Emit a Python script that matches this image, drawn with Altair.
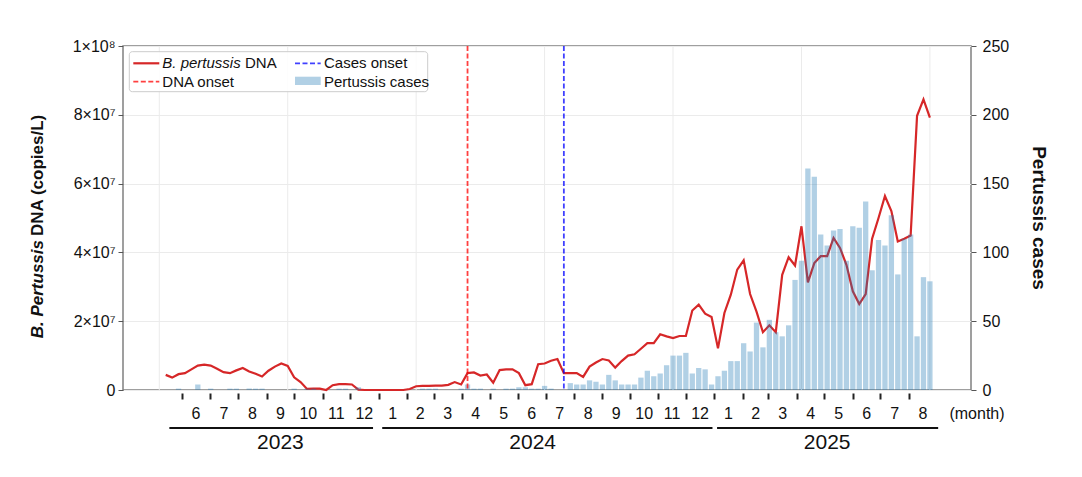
import altair as alt
import pandas as pd

# ---------------- data ----------------
START = "2023-05-07"          # date of week index 0
case_weeks = list(range(0, 121))
cases = [0, 0, 0, 1, 0, 0, 4, 0, 1, 0, 0, 1, 1, 0, 1, 1, 1, 0, 0, 0,
         0, 1, 0, 1, 1, 0, 0, 0, 1, 1, 0, 2, 0, 0, 0, 0, 0, 0, 0, 0,
         0, 1, 1, 1, 0, 0, 0, 1, 4, 1, 1, 0, 1, 0, 1, 1, 2, 2, 1, 1,
         3, 1, 0, 0, 5, 4, 4, 7, 6, 4, 11, 7, 4, 4, 4, 9, 14, 10, 12, 18,
         25, 25, 27, 12, 16, 15, 4, 10, 14, 21, 21, 34, 28, 49, 31, 51, 42, 39, 47, 80,
         94, 161, 155, 113, 105, 116, 117, 94, 119, 118, 137, 87, 109, 105, 127, 84, 110, 113, 39, 82,
         79]

dna_weeks = list(range(1, 121))
dna_million = [4.4, 3.6, 4.6, 4.9, 6.0, 7.1, 7.4, 7.1, 6.2, 5.2,
               4.9, 5.7, 6.4, 5.4, 4.7, 3.9, 5.6, 6.8, 7.7, 7.0,
               3.7, 2.3, 0.3, 0.4, 0.4, 0.0, 1.4, 1.7, 1.7, 1.6,
               0.1, 0.0, 0.0, 0.0, 0.0, 0.0, 0.0, 0.0, 0.3, 1.1,
               1.2, 1.2, 1.3, 1.3, 1.5, 2.3, 1.6, 4.9, 5.1, 4.2,
               4.5, 2.1, 5.8, 6.0, 6.0, 4.9, 1.4, 1.7, 7.5, 7.7,
               8.5, 9.0, 4.9, 4.9, 4.9, 3.8, 6.8, 8.0, 9.0, 8.6,
               6.5, 8.4, 10.0, 10.4, 12.0, 13.6, 13.6, 16.2, 15.6, 15.1,
               15.7, 15.7, 23.1, 24.8, 22.2, 21.2, 12.1, 22.4, 27.7, 35.0,
               37.7, 27.9, 22.8, 16.8, 18.8, 16.8, 33.5, 38.6, 36.2, 47.6,
               31.3, 36.9, 38.9, 38.9, 44.2, 41.3, 36.4, 28.7, 25.0, 27.9,
               44.0, 50.0, 56.4, 52.0, 43.2, 44.0, 44.9, 79.7, 84.5, 79.2]

dna_onset_week = 48
cases_onset_week = 63
grid_weeks = [0, 20, 40, 60, 80, 100, 120]
first_month = "2023-06-01"
last_month = "2025-08-01"
year_names = ["2023", "2024", "2025"]
year_line_start = ["2023-05-18", "2024-01-05", "2025-01-04"]
year_line_end = ["2023-12-26", "2024-12-30", "2025-09-02"]
year_label_at = ["2023-09-16", "2024-06-17", "2025-05-04"]
dna_ticks = [0, 2e7, 4e7, 6e7, 8e7, 1e8]
case_ticks = [0, 50, 100, 150, 200, 250]

# ---------------- derived tables ----------------
t0 = pd.Timestamp(START)


def wk(d):
    return (pd.Timestamp(d) - t0).days / 7.0


case_df = pd.DataFrame({"week": case_weeks, "cases": cases})
dna_df = pd.DataFrame({"week": dna_weeks, "dna": [v * 1e6 for v in dna_million]})
grid_df = pd.DataFrame({"gx": grid_weeks})

month_starts = pd.date_range(first_month, last_month, freq="MS")
month_ticks = [wk(d) for d in month_starts]
month_df = pd.DataFrame({
    "mid": [(wk(d) + wk(d + pd.offsets.MonthBegin(1))) / 2 for d in month_starts],
    "label": [str(d.month) for d in month_starts],
})
year_df = pd.DataFrame({
    "year": year_names,
    "ys": [wk(d) for d in year_line_start],
    "ye": [wk(d) for d in year_line_end],
    "yl": [wk(d) for d in year_label_at],
})

# ---------------- layout ----------------
W, H = 848, 344
FONT = "Liberation Sans"
RED = "#d62728"
BAR = "#1f77b4"
GRID = "#ebebeb"

xscale = alt.Scale(domain=[-5.65, 126.4], nice=False, zero=False, padding=0)
x_axis = alt.Axis(values=month_ticks, labels=False, ticks=True, tickSize=6,
                  tickWidth=2, tickColor="#222222", domain=False, grid=False,
                  offset=3, title=None)


def X(field):
    return alt.X(f"{field}:Q", scale=xscale, axis=x_axis, title=None)


one = alt.Data(values=[{"k": 0}])

vgrid = alt.Chart(grid_df).mark_rule(color=GRID, strokeWidth=1).encode(
    x=X("gx"), y=alt.value(0), y2=alt.value(H))

line = alt.Chart(dna_df).mark_line(color=RED, strokeWidth=2.2).encode(
    x=X("week"),
    y=alt.Y("dna:Q", scale=alt.Scale(domain=[0, 1e8], nice=False, padding=0),
            axis=alt.Axis(orient="left", values=dna_ticks,
                          labelExpr="datum.value == 0 ? '0' : (datum.value >= 1e8 ? '1×10⁸' : format(datum.value / 1e7, 'd') + '×10⁷')",
                          grid=True, gridColor=GRID, tickSize=5, tickColor="#555555",
                          labelPadding=3, domain=False, labelFont=FONT,
                          labelFontSize=16, labelColor="#111111", title=None)))

bars = alt.Chart(case_df).mark_bar(color=BAR, opacity=0.35, size=5.3).encode(
    x=X("week"),
    y=alt.Y("cases:Q", scale=alt.Scale(domain=[0, 250], nice=False, padding=0),
            axis=alt.Axis(orient="right", values=case_ticks, grid=False,
                          tickSize=5, tickColor="#555555", labelPadding=6,
                          domain=False, labelFont=FONT, labelFontSize=16,
                          labelColor="#111111", title=None)))

red_onset = alt.Chart(pd.DataFrame({"ow": [dna_onset_week]})).mark_rule(
    color="#ff0000", opacity=0.75, strokeWidth=1.8, strokeDash=[5, 2.5]).encode(
    x=X("ow"), y=alt.value(0), y2=alt.value(H))
blue_onset = alt.Chart(pd.DataFrame({"ow": [cases_onset_week]})).mark_rule(
    color="#0000ff", opacity=0.75, strokeWidth=1.8, strokeDash=[5, 2.5]).encode(
    x=X("ow"), y=alt.value(0), y2=alt.value(H))

# ----- legend (drawn by hand so that the species name can be italic) -----
leg_box = alt.Chart(one).mark_rect(fill="white", fillOpacity=0.85, stroke="#cccccc",
                                   strokeWidth=1, cornerRadius=3).encode(
    x=alt.value(6.3), x2=alt.value(304.7), y=alt.value(5.7), y2=alt.value(45.7))
leg_line = alt.Chart(one).mark_rule(color=RED, strokeWidth=2.2).encode(
    x=alt.value(10.3), x2=alt.value(36.3), y=alt.value(17.3))
leg_red = alt.Chart(one).mark_rule(color="#ff0000", opacity=0.75, strokeWidth=1.8,
                                   strokeDash=[5, 2.5]).encode(
    x=alt.value(10.3), x2=alt.value(36.3), y=alt.value(35.7))
leg_blue = alt.Chart(one).mark_rule(color="#0000ff", opacity=0.75, strokeWidth=1.8,
                                    strokeDash=[5, 2.5]).encode(
    x=alt.value(172), x2=alt.value(197.7), y=alt.value(17.3))
leg_patch = alt.Chart(one).mark_rect(color=BAR, opacity=0.35).encode(
    x=alt.value(172), x2=alt.value(197.7), y=alt.value(30.7), y2=alt.value(39))


def legtext(txt, x, y, style="normal"):
    return alt.Chart(one).mark_text(font=FONT, fontSize=15, fontStyle=style,
                                    align="left", baseline="middle",
                                    color="#111111").encode(
        x=alt.value(x), y=alt.value(y), text=alt.value(txt))


leg_texts = [
    legtext("B. pertussis", 39.3, 17.3, "italic"),
    legtext("DNA", 122.0, 17.3),
    legtext("DNA onset", 39.3, 35.7),
    legtext("Cases onset", 201, 17.3),
    legtext("Pertussis cases", 201, 35.7),
]

# ----- month / year axis annotations -----
month_text = alt.Chart(month_df).mark_text(font=FONT, fontSize=16, align="center",
                                           baseline="middle", color="#111111").encode(
    x=X("mid"), y=alt.value(H + 24), text="label:N")
month_unit = alt.Chart(one).mark_text(font=FONT, fontSize=16, align="center",
                                      baseline="middle", color="#111111").encode(
    x=alt.value(W + 6), y=alt.value(H + 24), text=alt.value("(month)"))
year_lines = alt.Chart(year_df).mark_rule(color="#111111", strokeWidth=2).encode(
    x=X("ys"), x2="ye:Q", y=alt.value(H + 38))
year_text = alt.Chart(year_df).mark_text(font=FONT, fontSize=21, align="center",
                                         baseline="middle", color="#111111").encode(
    x=X("yl"), y=alt.value(H + 52.5), text="year:N")

# ----- axis titles -----
ltitle_a = alt.Chart(one).mark_text(font=FONT, fontSize=17, fontWeight="bold",
                                    fontStyle="italic", angle=270, align="right",
                                    baseline="middle", color="#111111").encode(
    x=alt.value(-85), y=alt.value(194), text=alt.value("B. Pertussis"))
ltitle_b = alt.Chart(one).mark_text(font=FONT, fontSize=17, fontWeight="bold",
                                    angle=270, align="left", baseline="middle",
                                    color="#111111").encode(
    x=alt.value(-85), y=alt.value(190), text=alt.value("DNA (copies/L)"))
rtitle = alt.Chart(one).mark_text(font=FONT, fontSize=19, fontWeight="bold",
                                  angle=90, align="center", baseline="middle",
                                  color="#111111").encode(
    x=alt.value(916), y=alt.value(H / 2), text=alt.value("Pertussis cases"))

chart = alt.layer(
    vgrid, line, bars, red_onset, blue_onset,
    leg_box, leg_line, leg_red, leg_blue, leg_patch, *leg_texts,
    month_text, month_unit, year_lines, year_text,
    ltitle_a, ltitle_b, rtitle,
).resolve_scale(y="independent").properties(
    width=W, height=H,
    autosize=alt.AutoSizeParams(type="none"),
    padding={"left": 115, "top": 38, "right": 103, "bottom": 80},
).configure_view(stroke="#808080", strokeWidth=1.5)

chart.save("out.html", embed_options={"renderer": "svg", "actions": False})
